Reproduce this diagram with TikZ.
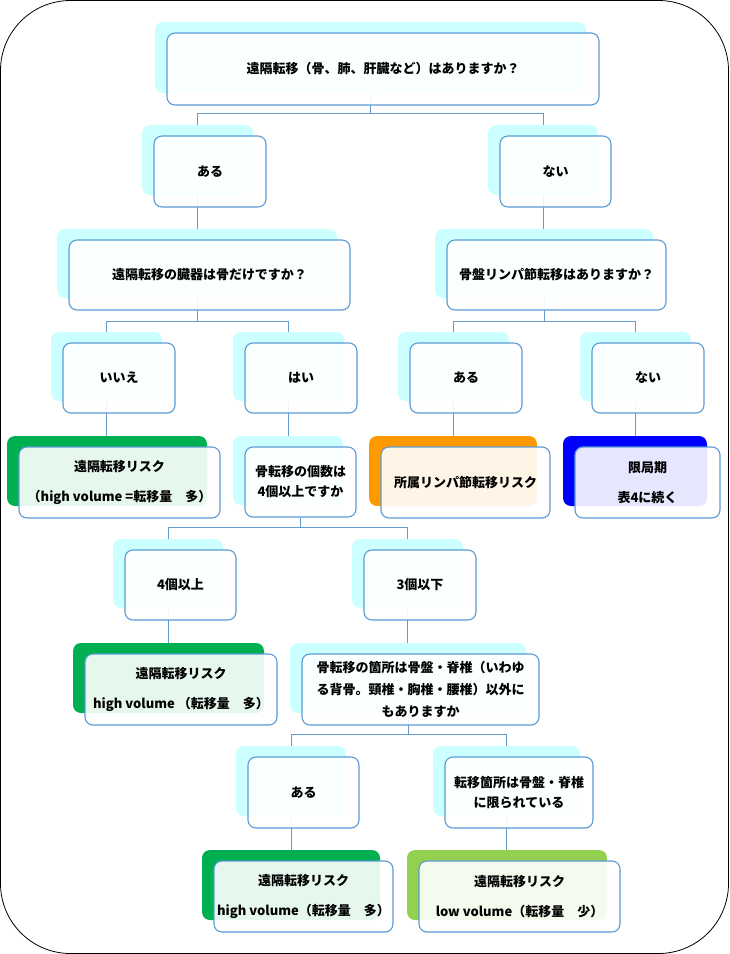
\documentclass[tikz,border=0pt]{standalone}
\usepackage{fontspec}
\setmainfont{Noto Sans CJK JP}
\pgfdeclarelayer{bg}
\pgfsetlayers{bg,main}
\definecolor{cyanbk}{RGB}{204,255,255}
\definecolor{bordr}{RGB}{91,155,213}
\definecolor{grn}{RGB}{0,176,80}
\definecolor{orng}{RGB}{255,153,0}
\definecolor{blu}{RGB}{0,0,255}
\definecolor{lgrn}{RGB}{146,208,80}
\definecolor{connc}{RGB}{100,155,205}
\tikzset{
 backbox/.style={rectangle, rounded corners=8pt, inner sep=0pt, draw=none},
 frontbox/.style={rectangle, rounded corners=8pt, inner sep=0pt, draw=bordr, line width=1.1pt,
   fill=white, fill opacity=0.9, text opacity=1, align=center, font=\fontsize{13}{15}\selectfont\bfseries},
 connline/.style={draw=connc, line width=1pt},
 wide/.style={font=\fontsize{13}{30}\selectfont\bfseries},
 tight/.style={font=\fontsize{13}{20}\selectfont\bfseries},
 mid/.style={font=\fontsize{13}{22}\selectfont\bfseries},
 plain/.style={}
}
\newcommand\twobox[8]{%
 \node[backbox, fill=#6, minimum width=#4pt, minimum height=#5pt] (#1b) at (#2,#3) {};
 \node[frontbox, #8, minimum width=#4pt+1pt, minimum height=#5pt+1pt] (#1) at (#2+12.5,#3+11.5) {#7};
}
\begin{document}
\begin{tikzpicture}[x=1pt,y=-1pt]
\useasboundingbox (0,0) rectangle (729,954);
\draw[black, line width=0.8pt, rounded corners=70pt] (0.5,0.5) rectangle (728.5,953.5);

\twobox{A}{370.5}{57.5}{431}{71}{cyanbk}{遠隔転移（骨、肺、肝臓など）はありますか？}{plain}
\twobox{B}{197.5}{160}{111}{70}{cyanbk}{ある}{plain}
\twobox{C}{543}{160}{110}{70}{cyanbk}{ない}{plain}
\twobox{D}{197}{263.5}{280}{69}{cyanbk}{遠隔転移の臓器は骨だけですか？}{plain}
\twobox{E}{544}{263.5}{218}{69}{cyanbk}{骨盤リンパ節転移はありますか？}{plain}
\twobox{F}{106.5}{366.5}{111}{69}{cyanbk}{いいえ}{plain}
\twobox{G}{288.5}{366.5}{111}{69}{cyanbk}{はい}{plain}
\twobox{H}{453.5}{366.5}{111}{69}{cyanbk}{ある}{plain}
\twobox{I}{635.5}{366.5}{111}{69}{cyanbk}{ない}{plain}
\twobox{J}{107}{471}{200}{70}{grn}{遠隔転移リスク\\（high volume =転移量　多）}{wide}
\twobox{K}{288}{470.5}{110}{69}{cyanbk}{骨転移の個数は\\4個以上ですか}{tight}
\twobox{L}{453}{471}{168}{70}{orng}{所属リンパ節転移リスク}{plain}
\twobox{M}{635}{471}{144}{70}{blu}{限局期\\表4に続く}{wide}
\twobox{N}{168}{573.5}{110}{69}{cyanbk}{4個以上}{plain}
\twobox{O}{407.5}{573.5}{111}{69}{cyanbk}{3個以下}{plain}
\twobox{P}{168.5}{678}{191}{70}{grn}{遠隔転移リスク\\high volume （転移量　多）}{wide}
\twobox{Q}{408}{678}{236}{70}{cyanbk}{骨転移の箇所は骨盤・脊椎（いわゆ\\る背骨。頸椎・胸椎・腰椎）以外に\\もありますか}{mid}
\twobox{R}{291}{781}{110}{70}{cyanbk}{ある}{plain}
\twobox{S}{506.5}{781}{147}{70}{cyanbk}{転移箇所は骨盤・脊椎\\に限られている}{tight}
\twobox{T}{291}{885}{178}{70}{grn}{遠隔転移リスク\\high volume（転移量　多）}{wide}
\twobox{U}{507}{885}{200}{70}{lgrn}{遠隔転移リスク\\low volume（転移量　少）}{wide}

\begin{pgfonlayer}{bg}
\draw[connline] (Bb.north) -- ++(0,-11) -| (Ab.south);
\draw[connline] (Cb.north) -- ++(0,-11) -| (Ab.south);
\draw[connline] (Bb.south) -- (Bb.south |- Db.north);
\draw[connline] (Cb.south) -- (Cb.south |- Eb.north);
\draw[connline] (Fb.north) -- ++(0,-10) -| (Db.south);
\draw[connline] (Gb.north) -- ++(0,-10) -| (Db.south);
\draw[connline] (Hb.north) -- ++(0,-10) -| (Eb.south);
\draw[connline] (Ib.north) -- ++(0,-10) -| (Eb.south);
\draw[connline] (Fb.south) -- (Fb.south |- Jb.north);
\draw[connline] (Gb.south) -- (Gb.south |- Kb.north);
\draw[connline] (Hb.south) -- (Hb.south |- Lb.north);
\draw[connline] (Ib.south) -- (Ib.south |- Mb.north);
\draw[connline] (Nb.north) -- ++(0,-11) -| (K.south);
\draw[connline] (Ob.north) -- ++(0,-11) -| (K.south);
\draw[connline] (Nb.south) -- (Nb.south |- Pb.north);
\draw[connline] (Ob.south) -- (Ob.south |- Qb.north);
\draw[connline] (Rb.north) -- ++(0,-11) -| (Qb.south);
\draw[connline] (Sb.north) -- ++(0,-11) -| (Qb.south);
\draw[connline] (Rb.south) -- (Rb.south |- Tb.north);
\draw[connline] (Sb.south) -- (Sb.south |- Ub.north);
\end{pgfonlayer}
\end{tikzpicture}
\end{document}
